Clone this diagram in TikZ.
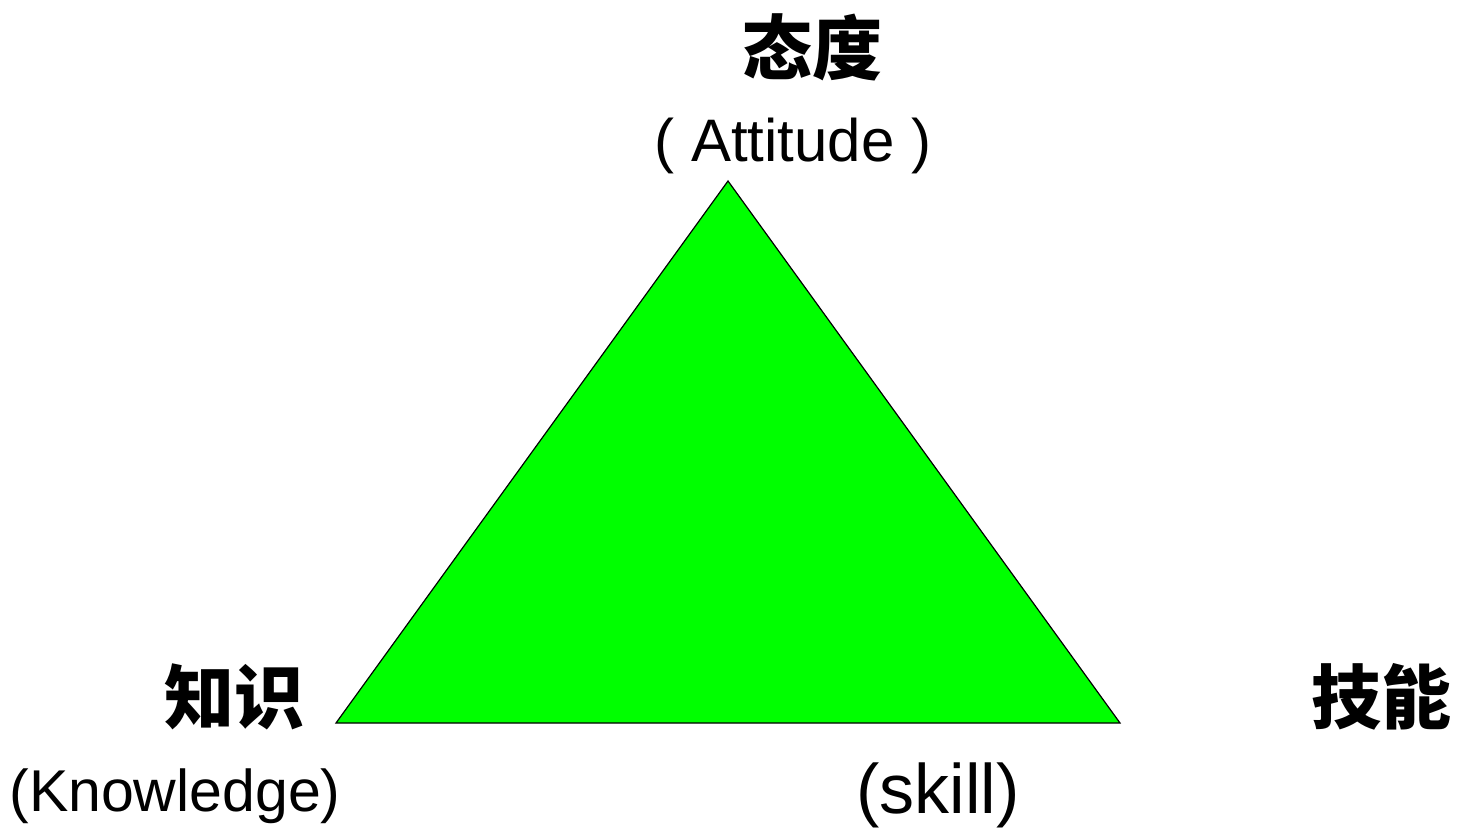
\documentclass[tikz,border=0pt]{standalone}
\usepackage{fontspec}
\setmainfont{Liberation Sans}
\newfontfamily\cjk{Noto Sans CJK SC}
\definecolor{tri}{RGB}{0,255,0}
\begin{document}
\begin{tikzpicture}[x=0.5pt,y=-0.5pt,
  cjklabel/.style={inner sep=0pt,font=\cjk\bfseries\fontsize{35}{40}\selectfont},
  enlabel/.style={inner sep=0pt,anchor=base,font=\fontsize{30}{36}\selectfont}]
\useasboundingbox (0,0) rectangle (1462,828);
\coordinate (A) at (728,181);
\coordinate (K) at (336,723);
\coordinate (S) at (1120,723);
\filldraw[fill=tri,draw=black,line width=0.6pt,line join=miter] (A) -- (K) -- (S) -- cycle;
\node[cjklabel] (att) at (812,47) {态度};
\node[enlabel] (atten) at (793,162) {( Attitude )};
\node[cjklabel] (know) at (234,697) {知识};
\node[enlabel,font=\fontsize{29.5}{36}\selectfont] (knowen) at (175,811) {(Knowledge)};
\node[cjklabel] (skill) at (1381,697) {技能};
\node[enlabel,font=\fontsize{35}{40}\selectfont] (skillen) at (938,813) {(skill)};
\end{tikzpicture}
\end{document}
